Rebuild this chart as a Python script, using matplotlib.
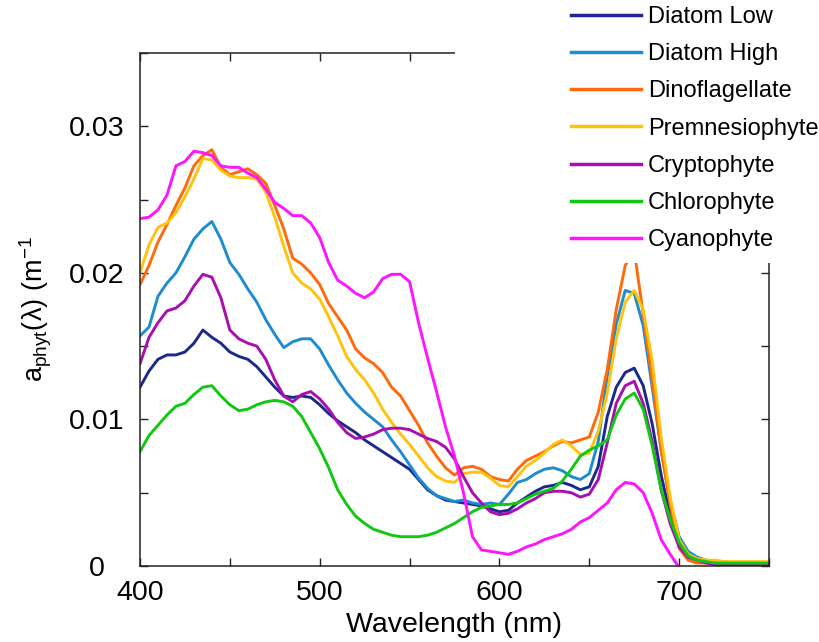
import matplotlib
matplotlib.use("Agg")
import matplotlib.pyplot as plt
from matplotlib.patches import Rectangle
import numpy as np

plt.rcParams['font.family'] = ['Liberation Sans', 'DejaVu Sans']
plt.rcParams['mathtext.fontset'] = 'custom'
plt.rcParams['mathtext.rm'] = 'Liberation Sans'
plt.rcParams['mathtext.it'] = 'Liberation Sans'

wavelength = list(range(400, 755, 5))

diatom_low = [0.0122, 0.0133, 0.0141, 0.0144, 0.0144, 0.0146, 0.0152, 0.0161, 0.0156, 0.0152,
              0.0146, 0.0143, 0.0141, 0.0136, 0.0129, 0.0122, 0.0116, 0.0115, 0.0116, 0.0115,
              0.0110, 0.0104, 0.0099, 0.0095, 0.0091, 0.0086, 0.0082, 0.0078, 0.0074, 0.0070,
              0.0066, 0.0059, 0.0052, 0.0048, 0.0045, 0.0044, 0.0043, 0.0042, 0.0041, 0.0039,
              0.0037, 0.0038, 0.0043, 0.0047, 0.0051, 0.0054, 0.0055, 0.0057, 0.0055, 0.0052,
              0.0054, 0.0068, 0.0102, 0.0122, 0.0132, 0.0135, 0.0123, 0.0097, 0.0062, 0.0035,
              0.0018, 0.0009, 0.0005, 0.0003, 0.0002, 0.0002, 0.0001, 0.0001, 0.0001, 0.0001, 0.0001]

diatom_high = [0.0157, 0.0163, 0.0184, 0.0193, 0.0200, 0.0211, 0.0223, 0.0230, 0.0235, 0.0223,
               0.0207, 0.0199, 0.0189, 0.0180, 0.0168, 0.0158, 0.0149, 0.0153, 0.0155, 0.0155,
               0.0148, 0.0137, 0.0127, 0.0118, 0.0111, 0.0105, 0.0100, 0.0095, 0.0086, 0.0078,
               0.0069, 0.0060, 0.0053, 0.0048, 0.0046, 0.0044, 0.0045, 0.0043, 0.0042, 0.0043,
               0.0042, 0.0049, 0.0057, 0.0059, 0.0063, 0.0066, 0.0067, 0.0065, 0.0061, 0.0059,
               0.0063, 0.0085, 0.0129, 0.0165, 0.0188, 0.0186, 0.0164, 0.0122, 0.0079, 0.0044,
               0.0020, 0.0010, 0.0006, 0.0004, 0.0003, 0.0003, 0.0002, 0.0002, 0.0002, 0.0002, 0.0002]

dinoflagellate = [0.0192, 0.0205, 0.0221, 0.0233, 0.0246, 0.0258, 0.0273, 0.0280, 0.0284, 0.0272,
                  0.0267, 0.0269, 0.0271, 0.0267, 0.0261, 0.0246, 0.0230, 0.0210, 0.0206, 0.0200,
                  0.0192, 0.0179, 0.0170, 0.0161, 0.0148, 0.0142, 0.0138, 0.0132, 0.0122, 0.0116,
                  0.0106, 0.0096, 0.0084, 0.0075, 0.0067, 0.0062, 0.0067, 0.0068, 0.0066, 0.0061,
                  0.0059, 0.0058, 0.0066, 0.0072, 0.0075, 0.0078, 0.0082, 0.0085, 0.0084, 0.0086,
                  0.0088, 0.0105, 0.0134, 0.0175, 0.0205, 0.0215, 0.0172, 0.0127, 0.0079, 0.0042,
                  0.0012, 0.0004, 0.0002, 0.0002, 0.0002, 0.0002, 0.0002, 0.0002, 0.0002, 0.0002, 0.0002]

premnesiophyte = [0.0200, 0.0219, 0.0231, 0.0234, 0.0241, 0.0252, 0.0264, 0.0278, 0.0277, 0.0270,
                  0.0266, 0.0265, 0.0265, 0.0264, 0.0255, 0.0238, 0.0218, 0.0200, 0.0193, 0.0189,
                  0.0182, 0.0170, 0.0157, 0.0143, 0.0134, 0.0127, 0.0118, 0.0107, 0.0098, 0.0090,
                  0.0083, 0.0075, 0.0067, 0.0061, 0.0058, 0.0057, 0.0063, 0.0064, 0.0064, 0.0060,
                  0.0055, 0.0054, 0.0061, 0.0068, 0.0072, 0.0077, 0.0083, 0.0086, 0.0082, 0.0076,
                  0.0077, 0.0092, 0.0118, 0.0155, 0.0180, 0.0188, 0.0175, 0.0140, 0.0088, 0.0047,
                  0.0018, 0.0008, 0.0005, 0.0004, 0.0004, 0.0003, 0.0003, 0.0003, 0.0003, 0.0003, 0.0003]

cryptophyte = [0.0138, 0.0156, 0.0166, 0.0174, 0.0176, 0.0181, 0.0191, 0.0199, 0.0197, 0.0183,
               0.0161, 0.0155, 0.0152, 0.0150, 0.0141, 0.0127, 0.0116, 0.0112, 0.0117, 0.0119,
               0.0114, 0.0107, 0.0098, 0.0091, 0.0087, 0.0088, 0.0090, 0.0093, 0.0094, 0.0094,
               0.0093, 0.0090, 0.0087, 0.0085, 0.0081, 0.0073, 0.0061, 0.0050, 0.0043, 0.0037,
               0.0035, 0.0036, 0.0039, 0.0043, 0.0046, 0.0050, 0.0051, 0.0051, 0.0050, 0.0047,
               0.0049, 0.0059, 0.0084, 0.0111, 0.0123, 0.0126, 0.0111, 0.0085, 0.0052, 0.0029,
               0.0013, 0.0006, 0.0004, 0.0002, 0.0001, 0.0001, 0.0001, 0.0001, 0.0001, 0.0001, 0.0001]

chlorophyte = [0.0078, 0.0089, 0.0096, 0.0103, 0.0109, 0.0111, 0.0117, 0.0122, 0.0123, 0.0116,
               0.0110, 0.0106, 0.0107, 0.0110, 0.0112, 0.0113, 0.0112, 0.0109, 0.0102, 0.0091,
               0.0080, 0.0067, 0.0052, 0.0042, 0.0034, 0.0029, 0.0025, 0.0023, 0.0021, 0.0020,
               0.0020, 0.0020, 0.0021, 0.0023, 0.0026, 0.0029, 0.0033, 0.0037, 0.0040, 0.0041,
               0.0042, 0.0042, 0.0043, 0.0046, 0.0049, 0.0051, 0.0053, 0.0058, 0.0066, 0.0075,
               0.0079, 0.0082, 0.0086, 0.0103, 0.0114, 0.0118, 0.0107, 0.0082, 0.0052, 0.0032,
               0.0016, 0.0007, 0.0004, 0.0003, 0.0002, 0.0002, 0.0002, 0.0002, 0.0002, 0.0002, 0.0002]

cyanophyte = [0.0237, 0.0238, 0.0243, 0.0253, 0.0273, 0.0276, 0.0283, 0.0282, 0.0280, 0.0273,
              0.0272, 0.0272, 0.0268, 0.0265, 0.0257, 0.0248, 0.0244, 0.0239, 0.0239, 0.0234,
              0.0224, 0.0207, 0.0195, 0.0191, 0.0186, 0.0183, 0.0187, 0.0196, 0.0199, 0.0199,
              0.0194, 0.0166, 0.0142, 0.0119, 0.0095, 0.0075, 0.0050, 0.0020, 0.0011, 0.0010,
              0.0009, 0.0008, 0.0010, 0.0013, 0.0015, 0.0018, 0.0020, 0.0022, 0.0025, 0.0030,
              0.0033, 0.0038, 0.0043, 0.0052, 0.0057, 0.0056, 0.0050, 0.0036, 0.0018, 0.0008,
              -0.0001, -0.0005, -0.0005, -0.0005, -0.0005, -0.0005, -0.0005, -0.0005, -0.0005, -0.0005, -0.0005]

series_names = ["Diatom Low", "Diatom High", "Dinoflagellate", "Premnesiophyte",
                "Cryptophyte", "Chlorophyte", "Cyanophyte"]
series_values = [diatom_low, diatom_high, dinoflagellate, premnesiophyte,
                 cryptophyte, chlorophyte, cyanophyte]
colors = ["#1b2a8a", "#1e8ccf", "#ff6a0a", "#ffc20e", "#a80fb0", "#11c811", "#ff14ff"]

x_ticks = [400, 450, 500, 550, 600, 650, 700, 750]
x_ticklabels = ["400", "", "500", "", "600", "", "700", ""]
y_ticks = [0, 0.005, 0.01, 0.015, 0.02, 0.025, 0.03, 0.035]
y_ticklabels = ["0", "", "0.01", "", "0.02", "", "0.03", ""]

W, H = 820, 642
fig = plt.figure(figsize=(W / 100, H / 100), dpi=100)
ax = fig.add_axes([140 / W, 1 - 566 / H, (769 - 140) / W, (566 - 53) / H])

lines = []
for name, vals, c in zip(series_names, series_values, colors):
    ln, = ax.plot(wavelength, vals, color=c, lw=2.1, label=name)
    lines.append(ln)

ax.set_xlim(400, 750)
ax.set_ylim(0, 0.035)
ax.set_xticks(x_ticks)
ax.set_xticklabels(x_ticklabels)
ax.set_yticks(y_ticks)
ax.set_yticklabels(y_ticklabels)
ax.tick_params(direction='in', length=6, width=1.0, colors='#222222',
               top=True, right=True, labelsize=20.5, labelcolor='black')
ax.tick_params(axis='x', pad=10)
ax.tick_params(axis='y', pad=31)
for lab in ax.get_yticklabels():
    lab.set_horizontalalignment('center')
for sp in ax.spines.values():
    sp.set_linewidth(1.1)
    sp.set_color('#222222')

ax.set_xlabel("Wavelength (nm)", fontsize=20.5)
ax.xaxis.set_label_coords(0.5, -0.09)
ax.set_ylabel(r"a$_{\mathregular{phyt}}$(λ) (m$^{\mathregular{-1}}$", fontsize=19.5)
ax.yaxis.set_label_coords(-0.137, 0.5)

# white box behind legend (legend area covers the upper right of the axes)
rect = Rectangle((455 / W, 1 - 263 / H), 1 - 455 / W, 263 / H,
                 transform=fig.transFigure, facecolor='white', edgecolor='none', zorder=5)
fig.patches.append(rect)

leg = fig.legend(handles=lines, labels=series_names, loc='upper left',
                 bbox_to_anchor=(571 / W, 1 - 6 / H), bbox_transform=fig.transFigure,
                 frameon=False, fontsize=17, handlelength=2.95, handletextpad=0.3,
                 labelspacing=0.645, borderpad=0, borderaxespad=0)
leg.set_zorder(6)
for l in leg.get_lines():
    l.set_linewidth(2.5)

fig.savefig("out.png", dpi=100)
